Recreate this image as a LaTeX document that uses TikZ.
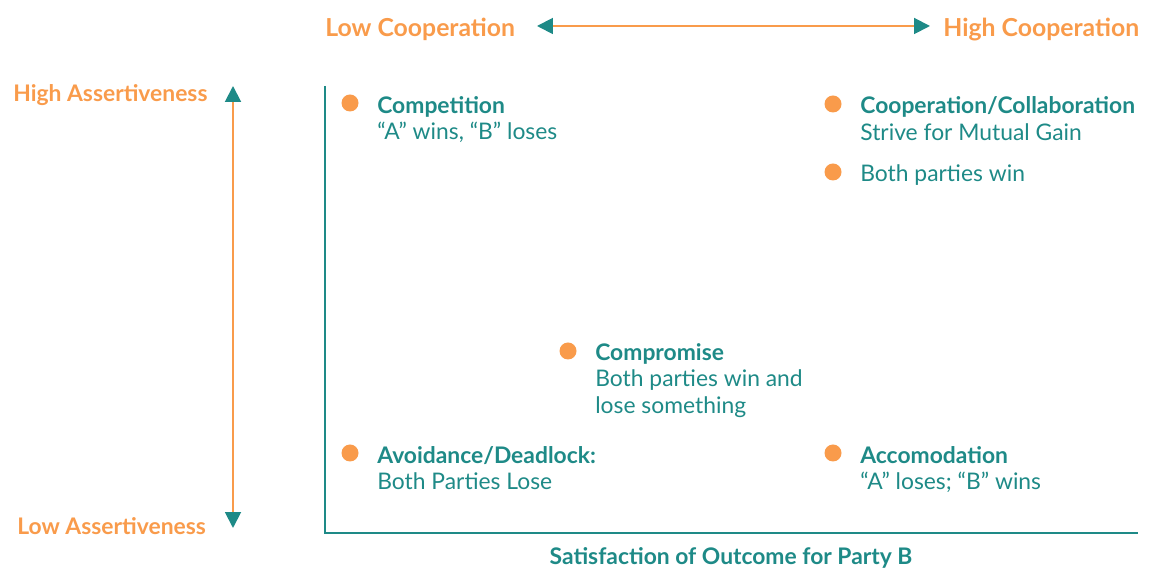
\documentclass[tikz,border=0pt]{standalone}
\usepackage{fontspec}
\setmainfont{Lato}
\usetikzlibrary{arrows.meta}
\definecolor{tealC}{HTML}{1E8A87}
\definecolor{orangeC}{HTML}{F99B4B}
\begin{document}
\begin{tikzpicture}[x=0.02cm,y=-0.02cm,
  dot/.style={circle,fill=orangeC,inner sep=0pt,minimum size=17*0.02cm},
  txt/.style={inner sep=0pt,anchor=base west,yshift=-0.035cm,font=\fontsize{13}{15}\selectfont},
  head/.style={txt,font=\fontsize{13}{15}\selectfont\bfseries,text=tealC},
  desc/.style={txt,text=tealC},
  axlabel/.style={txt,font=\fontsize{13}{15}\selectfont\bfseries,text=orangeC},
  toplabel/.style={axlabel,font=\fontsize{14.1}{16}\selectfont\bfseries},
  scale arrow/.style={draw=orangeC,line width=1.1pt,{Triangle[length=9pt,width=9pt,color=tealC]}-{Triangle[length=9pt,width=9pt,color=tealC]}}]
\useasboundingbox (0,0) rectangle (1160,573);

% axis labels
\node[toplabel] (lowC) at (325,35) {Low Cooperation};
\node[toplabel] (highC) at (943,35) {High Cooperation};
\node[axlabel] (highA) at (13,100) {High Assertiveness};
\node[axlabel] (lowA) at (17,533) {Low Assertiveness};
\node[head,anchor=base] (satB) at (731,563) {Satisfaction of Outcome for Party B};

\coordinate (cL) at (537,26);
\coordinate (cR) at (930,26);
\coordinate (aT) at (233,86);
\coordinate (aB) at (233,528);
\draw[scale arrow] (cL) -- (cR);
\draw[scale arrow] (aT) -- (aB);

% axes
\coordinate (o) at (325,533);
\coordinate (yT) at (325,86);
\coordinate (xR) at (1138,533);
\draw[tealC,line width=1.1pt] (yT) -- (o) -- (xR);

% competition
\node[dot] (dComp) at (350,103) {};
\node[head] (tComp) at (377,112) {Competition};
\node[desc] (sComp) at (377,138) {“A” wins, “B” loses};

% collaboration
\node[dot] (dColl) at (833,104) {};
\node[head] (tColl) at (860,112) {Cooperation/Collaboration};
\node[desc] (sColl) at (860,139) {Strive for Mutual Gain};
\node[dot] (dWin) at (833,172) {};
\node[desc] (sWin) at (860,180) {Both parties win};

% compromise
\node[dot] (dCompr) at (568,351) {};
\node[head] (tCompr) at (595,359) {Compromise};
\node[desc] (sCompr) at (595,385) {Both parties win and};
\node[desc] (sCompr2) at (595,412) {lose something};

% avoidance
\node[dot] (dAvoid) at (350,453) {};
\node[head] (tAvoid) at (377,462) {Avoidance/Deadlock:};
\node[desc] (sAvoid) at (377,488) {Both Parties Lose};

% accomodation
\node[dot] (dAcc) at (833,453) {};
\node[head] (tAcc) at (860,462) {Accomodation};
\node[desc] (sAcc) at (860,488) {“A” loses; “B” wins};
\end{tikzpicture}
\end{document}
